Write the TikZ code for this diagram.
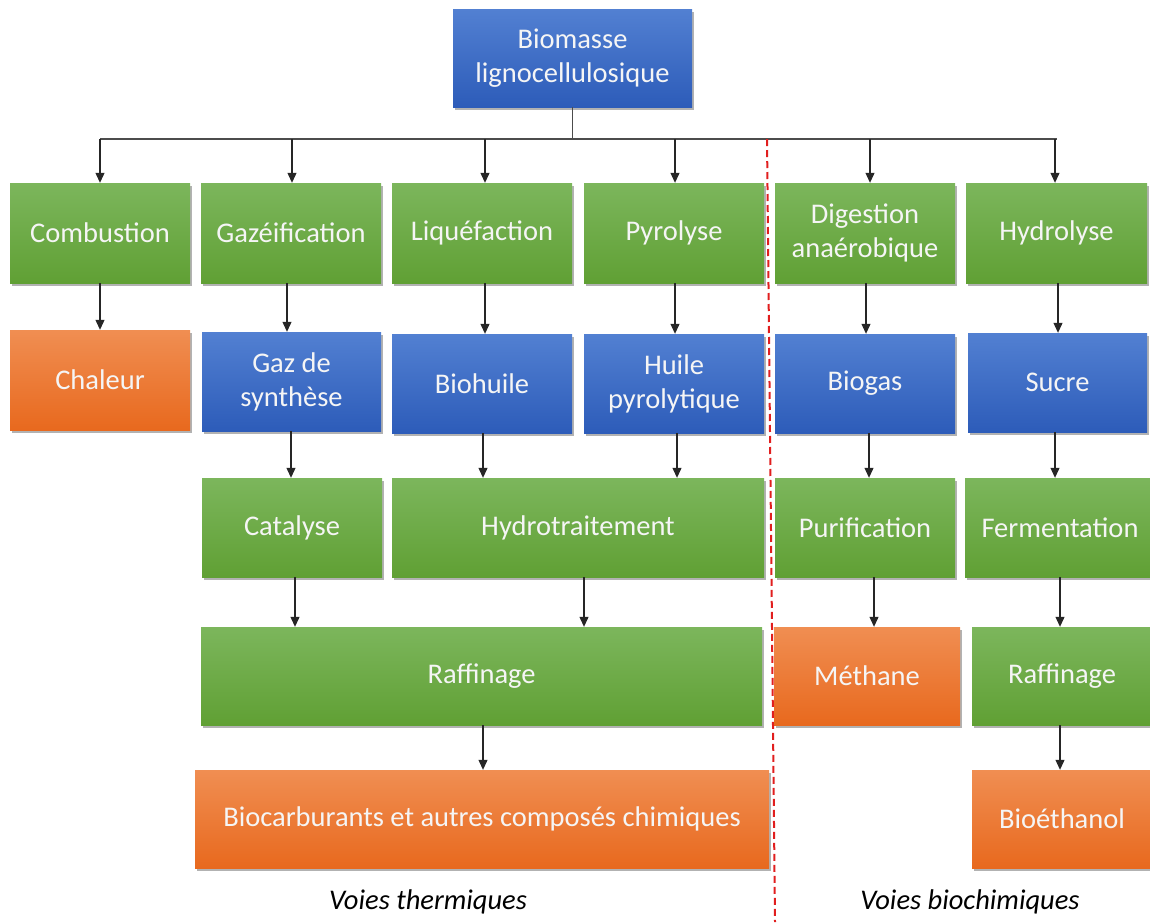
\documentclass[tikz,border=0pt]{standalone}
\usepackage{fontspec}
\setmainfont{Carlito}
\usetikzlibrary{arrows.meta,shadows}
\definecolor{gtop}{RGB}{124,182,92}
\definecolor{gbot}{RGB}{96,160,52}
\definecolor{btop}{RGB}{82,128,210}
\definecolor{bbot}{RGB}{45,92,185}
\definecolor{otop}{RGB}{240,142,82}
\definecolor{obot}{RGB}{232,105,30}
\definecolor{txt}{RGB}{245,245,245}
\definecolor{dred}{RGB}{225,30,30}
\tikzset{
  boxbase/.style={rectangle, inner sep=0pt, align=center, text=txt,
    font=\fontsize{28.5}{34}\selectfont,
    drop shadow={shadow xshift=2pt,shadow yshift=-2.5pt,opacity=0.3,fill=black}},
  gbox/.style={boxbase, top color=gtop, bottom color=gbot},
  bbox/.style={boxbase, top color=btop, bottom color=bbot},
  obox/.style={boxbase, top color=otop, bottom color=obot},
  sz/.style 2 args={minimum width=#1pt, minimum height=#2pt},
  arr/.style={-{Triangle[width=9pt,length=10pt]}, line width=1.1pt, draw=black!85},
  plain/.style={line width=1.1pt, draw=black!70},
  sep/.style={dred, line width=2pt, dash pattern=on 7pt off 4pt},
  lab/.style={font=\fontsize{28.5}{34}\selectfont\itshape, text=black, inner sep=0pt}
}
\begin{document}
\begin{tikzpicture}[x=1pt,y=-1pt]
\useasboundingbox (0,0) rectangle (1150,922);
% row 0
\node[bbox, sz={239}{98}] (bio) at (572.5,58) {Biomasse\\lignocellulosique};
% row 1
\node[gbox, sz={180}{100}] (comb) at (100,233) {Combustion};
\node[gbox, sz={180}{100}] (gaz) at (291,233) {Gazéification};
\node[gbox, sz={180}{100}] (liq) at (482,233) {Liquéfaction};
\node[gbox, sz={180}{100}] (pyr) at (674,233) {Pyrolyse};
\node[gbox, sz={180}{100}] (dig) at (865,233) {Digestion\\anaérobique};
\node[gbox, sz={181}{100}] (hyd) at (1056.5,233) {Hydrolyse};
% row 2
\node[obox, sz={180}{100}] (chal) at (100,380) {Chaleur};
\node[bbox, sz={179}{99}] (gs) at (291.5,381.5) {Gaz de\\synthèse};
\node[bbox, sz={180}{99}] (bh) at (482,383.5) {Biohuile};
\node[bbox, sz={180}{99}] (hp) at (674,383.5) {Huile\\pyrolytique};
\node[bbox, sz={180}{99}] (bg) at (865,383.5) {Biogas};
\node[bbox, sz={179}{99}] (suc) at (1057.5,382.5) {Sucre};
% row 3
\node[gbox, sz={180}{99}] (cat) at (292,527.5) {Catalyse};
\node[gbox, sz={372}{99}] (hdt) at (578,527.5) {Hydrotraitement};
\node[gbox, sz={180}{99}] (pur) at (865,527.5) {Purification};
\node[gbox, sz={190}{99}] (fer) at (1060,527.5) {Fermentation};
% row 4
\node[gbox, sz={561}{98}] (raf) at (481.5,676) {Raffinage};
\node[obox, sz={186}{98}] (met) at (867,676) {Méthane};
\node[gbox, sz={180}{98}] (raf2) at (1062,676) {Raffinage};
% row 5
\node[obox, sz={574}{98}] (bc) at (482,819) {Biocarburants et autres composés chimiques};
\node[obox, sz={180}{98}] (eth) at (1062,819) {Bioéthanol};
% labels
\node[lab] (lt) at (428,902) {Voies thermiques};
\node[lab] (lbc) at (970,902) {Voies biochimiques};
% bus
\coordinate (bus) at (573,139);
\draw[plain] (bio.south) -- (bio.south |- bus);
\draw[plain] (comb.north |- bus) -- (hyd.north |- bus);
\draw[arr] (100,139) -- (comb.north -| 100,0);
\draw[arr] (292,139) -- (gaz.north -| 292,0);
\draw[arr] (485,139) -- (liq.north -| 485,0);
\draw[arr] (675,139) -- (pyr.north -| 675,0);
\draw[arr] (870,139) -- (dig.north -| 870,0);
\draw[arr] (1055,139) -- (hyd.north -| 1055,0);
% row1 -> row2
\draw[arr] (comb.south -| 100,0) -- (chal.north -| 100,0);
\draw[arr] (gaz.south -| 287,0) -- (gs.north -| 287,0);
\draw[arr] (liq.south -| 485,0) -- (bh.north -| 485,0);
\draw[arr] (pyr.south -| 675,0) -- (hp.north -| 675,0);
\draw[arr] (dig.south -| 866,0) -- (bg.north -| 866,0);
\draw[arr] (hyd.south -| 1058,0) -- (suc.north -| 1058,0);
% row2 -> row3
\draw[arr] (gs.south -| 291,0) -- (cat.north -| 291,0);
\draw[arr] (bh.south -| 483,0) -- (hdt.north -| 483,0);
\draw[arr] (hp.south -| 677,0) -- (hdt.north -| 677,0);
\draw[arr] (bg.south -| 869,0) -- (pur.north -| 869,0);
\draw[arr] (suc.south -| 1055,0) -- (fer.north -| 1055,0);
% row3 -> row4
\draw[arr] (cat.south -| 295,0) -- (raf.north -| 295,0);
\draw[arr] (hdt.south -| 584,0) -- (raf.north -| 584,0);
\draw[arr] (pur.south -| 874,0) -- (met.north -| 874,0);
\draw[arr] (fer.south -| 1060,0) -- (raf2.north -| 1060,0);
% row4 -> row5
\draw[arr] (raf.south -| 483,0) -- (bc.north -| 483,0);
\draw[arr] (raf2.south -| 1060,0) -- (eth.north -| 1060,0);
% separator
\coordinate (dtop) at (767,139);
\coordinate (dbot) at (775,922);
\draw[sep] (dtop) -- (dbot);
\end{tikzpicture}
\end{document}
